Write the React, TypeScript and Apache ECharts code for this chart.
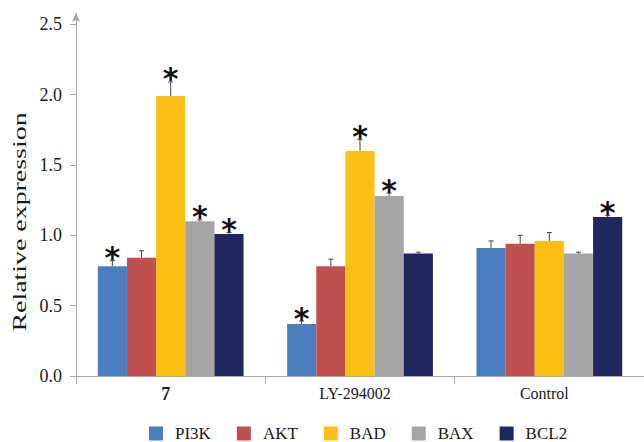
import React, { useEffect, useRef } from "react";
import * as echarts from "echarts";

const categories = ["7", "LY-294002", "Control"];
const genes = ["PI3K", "AKT", "BAD", "BAX", "BCL2"];
const colors = ["#4A7EBF", "#C0504D", "#FDBF14", "#A5A5A5", "#1F285E"];

const pi3k = [0.78, 0.37, 0.91];
const akt = [0.84, 0.78, 0.94];
const bad = [1.99, 1.6, 0.96];
const bax = [1.1, 1.28, 0.87];
const bcl2 = [1.01, 0.87, 1.13];

const pi3kErr = [0.04, 0.02, 0.05];
const aktErr = [0.05, 0.05, 0.06];
const badErr = [0.1, 0.08, 0.06];
const baxErr = [0.01, 0.02, 0.01];
const bcl2Err = [0.01, 0.01, 0.01];

const pi3kStar = [1, 1, 0];
const aktStar = [0, 0, 0];
const badStar = [1, 1, 0];
const baxStar = [1, 1, 0];
const bcl2Star = [1, 0, 1];

const yTicks = [0, 0.5, 1.0, 1.5, 2.0, 2.5];
const yTitle = "Relative expression";

const values = [pi3k, akt, bad, bax, bcl2];
const errs = [pi3kErr, aktErr, badErr, baxErr, bcl2Err];
const stars = [pi3kStar, aktStar, badStar, baxStar, bcl2Star];

const CAT_GAP = 0.23;

export default function App() {
  const ref = useRef<HTMLDivElement>(null);
  useEffect(() => {
    if (!ref.current) return;
    const chart = echarts.init(ref.current, null, { renderer: "svg" });
    const serif = "Liberation Serif, Times New Roman, serif";
    const axisColor = "#a8a8a8";
    const ink = "#1a1a1a";

    const barSeries = genes.map((g, gi) => ({
      name: g,
      type: "bar",
      data: values[gi],
      barGap: "0%",
      barCategoryGap: CAT_GAP * 100 + "%",
      itemStyle: { color: colors[gi] },
      z: 2,
    }));

    const errSeries = genes.map((g, gi) => ({
      name: "err-" + g,
      type: "custom",
      z: 3,
      encode: { x: 0, y: 1 },
      data: categories.map((c, ci) => [ci, values[gi][ci], errs[gi][ci], stars[gi][ci]]),
      renderItem: (params: any, api: any) => {
        const ci = api.value(0);
        const v = api.value(1);
        const sd = api.value(2);
        const st = api.value(3);
        const catW = api.size([1, 0])[0];
        const barW = (catW * (1 - CAT_GAP)) / genes.length;
        const cx = api.coord([ci, 0])[0] + (gi - (genes.length - 1) / 2) * barW;
        const yTop = api.coord([ci, v])[1];
        const yErr = api.coord([ci, v + sd])[1];
        const children: any[] = [
          {
            type: "line",
            shape: { x1: cx, y1: yTop, x2: cx, y2: yErr },
            style: { stroke: "#444", lineWidth: 1 },
          },
          {
            type: "line",
            shape: { x1: cx - 2.5, y1: yErr, x2: cx + 2.5, y2: yErr },
            style: { stroke: "#444", lineWidth: 1 },
          },
        ];
        if (st) {
          children.push({
            type: "text",
            x: cx,
            y: yErr - 3,
            style: {
              text: "*",
              fontSize: 30,
              fontWeight: "bold",
              fontFamily: "DejaVu Sans",
              fill: "#111",
              align: "center",
              verticalAlign: "middle",
            },
          });
        }
        return { type: "group", children };
      },
    }));

    chart.setOption({
      animation: false,
      textStyle: { fontFamily: serif },
      grid: { left: 76, width: 570, top: 13, bottom: 66 },
      legend: {
        data: genes,
        left: 144,
        top: 420,
        itemWidth: 14,
        itemHeight: 14,
        itemGap: 26,
        icon: "rect",
        formatter: (name: string) => "{t|" + name + "}",
        textStyle: {
          fontFamily: serif,
          fontSize: 17,
          color: ink,
          rich: {
            t: { fontFamily: serif, fontSize: 17, color: ink, padding: [0, 0, 0, 7] },
          },
        },
      },
      xAxis: {
        type: "category",
        data: categories,
        boundaryGap: true,
        axisLine: { lineStyle: { color: axisColor, width: 1 } },
        axisTick: { show: true, interval: 0, length: 8, lineStyle: { color: axisColor } },
        axisLabel: {
          interval: 0,
          margin: 9,
          fontFamily: serif,
          fontSize: 16,
          color: ink,
          padding: [0, 10, 0, 0],
          formatter: (v: string) => (v === "7" ? "{b|" + v + "}" : v),
          rich: {
            b: { fontFamily: serif, fontSize: 18, fontWeight: "bold", color: ink },
          },
        },
        splitLine: { show: false },
      },
      yAxis: {
        type: "value",
        min: 0,
        max: 2.58,
        interval: 0.5,
        axisLine: {
          show: true,
          lineStyle: { color: axisColor, width: 1 },
          symbol: ["none", "arrow"],
          symbolSize: [6, 9],
        },
        axisTick: {
          show: true,
          length: 6,
          lineStyle: { color: axisColor },
          customValues: yTicks,
        },
        axisLabel: {
          margin: 14,
          color: ink,
          formatter: (v: number) =>
            yTicks.some((t) => Math.abs(t - v) < 1e-6) ? "{n|" + v.toFixed(1) + "}" : "",
          rich: {
            n: { fontFamily: serif, fontSize: 18, color: ink },
          },
        },
        splitLine: { show: false },
      },
      graphic: [
        {
          type: "text",
          x: 20,
          y: 222,
          rotation: Math.PI / 2,
          scaleX: 1.55,
          style: {
            text: yTitle,
            fontFamily: serif,
            fontSize: 18,
            fill: ink,
            align: "center",
            verticalAlign: "middle",
          },
        },
      ],
      series: [...barSeries, ...errSeries],
    });
    return () => chart.dispose();
  }, []);
  return <div ref={ref} style={{ width: 644, height: 442, position: "absolute", left: 0, top: 0 }} />;
}
